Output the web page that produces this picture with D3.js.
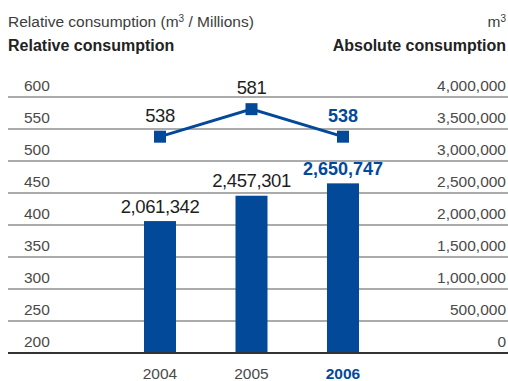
<!DOCTYPE html>
<html>
<head>
<meta charset="utf-8">
<script src="https://cdn.jsdelivr.net/npm/d3@7"></script>
<style>
  html, body { margin: 0; padding: 0; background: #fff; }
  svg { display: block; font-family: "Liberation Sans", Arial, sans-serif; }
</style>
</head>
<body>
<svg id="chart" width="508" height="381"></svg>
<script>
// Data
const years = ["2004", "2005", "2006"];
const absoluteConsumption = [2061342, 2457301, 2650747];   // m3, bars (right axis)
const relativeConsumption = [538, 581, 538];               // m3 / Millions, line (left axis)
const leftTicks = [200, 250, 300, 350, 400, 450, 500, 550, 600];
const rightTicks = [0, 500000, 1000000, 1500000, 2000000, 2500000, 3000000, 3500000, 4000000];
const highlightYear = "2006";

const blue = "#03499a";
const svg = d3.select("#chart");

const plotTop = 97, plotBottom = 353;
const x = d3.scalePoint().domain(years).range([160, 343]);
const yLeft = d3.scaleLinear().domain([200, 600]).range([plotBottom, plotTop]);
const yRight = d3.scaleLinear().domain([0, 4000000]).range([plotBottom, plotTop]);
const barW = 32;
const fmt = d3.format(",");

// Headers
const h1 = svg.append("text").attr("x", 8).attr("y", 27)
  .attr("font-size", 15.5).attr("fill", "#3c3c3c");
h1.append("tspan").text("Relative consumption (m");
h1.append("tspan").attr("font-size", 10).attr("dy", -5).text("3");
h1.append("tspan").attr("dy", 5).text(" / Millions)");

const h2 = svg.append("text").attr("x", 506).attr("y", 27).attr("text-anchor", "end")
  .attr("font-size", 15.5).attr("fill", "#3c3c3c");
h2.append("tspan").text("m");
h2.append("tspan").attr("font-size", 10).attr("dy", -5).text("3");

svg.append("text").attr("x", 8).attr("y", 51).attr("font-size", 16).attr("font-weight", "bold")
  .attr("fill", "#222").text("Relative consumption");
svg.append("text").attr("x", 506).attr("y", 51).attr("text-anchor", "end").attr("font-size", 16)
  .attr("font-weight", "bold").attr("fill", "#222").text("Absolute consumption");

// Grid lines + left axis (relative)
const leftAxis = d3.axisLeft(yLeft).tickValues(leftTicks).tickSize(0).tickPadding(0);
const gL = svg.append("g").attr("transform", "translate(24,0)").call(leftAxis);
gL.select(".domain").remove();
gL.selectAll(".tick text")
  .attr("text-anchor", "start").attr("x", 0).attr("dy", -6.5)
  .attr("font-size", 15.5).attr("font-family", "Liberation Sans, Arial, sans-serif")
  .attr("fill", "#4a4a4a");

svg.append("g").selectAll("line").data(leftTicks).join("line")
  .attr("x1", 8).attr("x2", 508)
  .attr("y1", d => yLeft(d)).attr("y2", d => yLeft(d))
  .attr("stroke", d => d === 200 ? "#333" : "#8f8f8f")
  .attr("stroke-width", d => d === 200 ? 2 : 1.5);

// Right axis (absolute)
const rightAxis = d3.axisRight(yRight).tickValues(rightTicks).tickSize(0).tickPadding(0)
  .tickFormat(d => fmt(d));
const gR = svg.append("g").attr("transform", "translate(506,0)").call(rightAxis);
gR.select(".domain").remove();
gR.selectAll(".tick text")
  .attr("text-anchor", "end").attr("x", 0).attr("dy", -6.5)
  .attr("font-size", 15.5).attr("font-family", "Liberation Sans, Arial, sans-serif")
  .attr("fill", "#4a4a4a");

// Bars
svg.append("g").selectAll("rect").data(years).join("rect")
  .attr("x", d => x(d) - barW / 2)
  .attr("y", (d, i) => yRight(absoluteConsumption[i]))
  .attr("width", barW)
  .attr("height", (d, i) => plotBottom - 1 - yRight(absoluteConsumption[i]))
  .attr("fill", blue);

// Bar value labels
svg.append("g").selectAll("text").data(years).join("text")
  .attr("x", d => x(d))
  .attr("y", (d, i) => yRight(absoluteConsumption[i]) - 8.5)
  .attr("text-anchor", "middle")
  .attr("font-size", d => d === highlightYear ? 18 : 18.5)
  .attr("font-weight", d => d === highlightYear ? "bold" : "normal")
  .attr("letter-spacing", d => d === highlightYear ? 0 : -0.4)
  .attr("fill", d => d === highlightYear ? blue : "#1e1e1e")
  .text((d, i) => fmt(absoluteConsumption[i]));

// Relative consumption line
const line = d3.line().x(d => x(d.year)).y(d => yLeft(d.value));
const pts = years.map((y, i) => ({ year: y, value: relativeConsumption[i] }));
svg.append("path").datum(pts).attr("d", line)
  .attr("fill", "none").attr("stroke", blue).attr("stroke-width", 3);
svg.append("g").selectAll("rect").data(pts).join("rect")
  .attr("x", d => x(d.year) - 6).attr("y", d => yLeft(d.value) - 6)
  .attr("width", 12).attr("height", 12).attr("fill", blue);
svg.append("g").selectAll("text").data(pts).join("text")
  .attr("x", d => x(d.year))
  .attr("y", d => yLeft(d.value) - 15)
  .attr("text-anchor", "middle")
  .attr("font-size", d => d.year === highlightYear ? 18 : 18.5)
  .attr("font-weight", d => d.year === highlightYear ? "bold" : "normal")
  .attr("letter-spacing", d => d.year === highlightYear ? 0 : -0.4)
  .attr("fill", d => d.year === highlightYear ? blue : "#1e1e1e")
  .text(d => d.value);

// Year labels
svg.append("g").selectAll("text").data(years).join("text")
  .attr("x", d => x(d)).attr("y", 379)
  .attr("text-anchor", "middle")
  .attr("font-size", 15.5)
  .attr("font-weight", d => d === highlightYear ? "bold" : "normal")
  .attr("fill", d => d === highlightYear ? blue : "#4a4a4a")
  .text(d => d);
</script>
</body>
</html>
